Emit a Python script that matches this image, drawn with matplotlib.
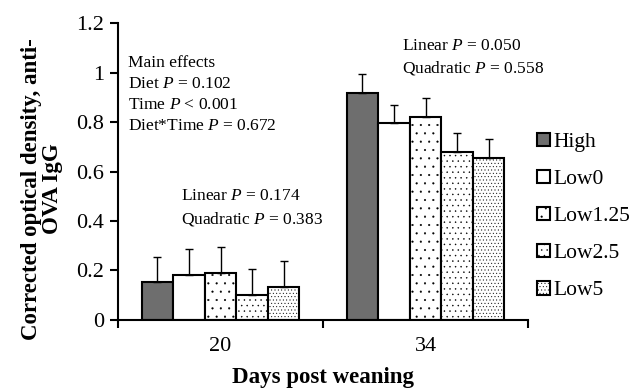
import matplotlib
matplotlib.use("Agg")
import matplotlib.pyplot as plt
from matplotlib.patches import Patch
import numpy as np

plt.rcParams['font.family'] = ['Liberation Serif', 'DejaVu Serif']
plt.rcParams['mathtext.fontset'] = 'custom'
plt.rcParams['mathtext.it'] = 'Liberation Serif:italic'
plt.rcParams['mathtext.rm'] = 'Liberation Serif'
plt.rcParams['hatch.linewidth'] = 0.3

days = ["20", "34"]
diets = ["High", "Low0", "Low1.25", "Low2.5", "Low5"]
means = {
    "High":    [0.155, 0.918],
    "Low0":    [0.181, 0.795],
    "Low1.25": [0.190, 0.821],
    "Low2.5":  [0.101, 0.680],
    "Low5":    [0.132, 0.653],
}
errs = {
    "High":    [0.101, 0.076],
    "Low0":    [0.105, 0.074],
    "Low1.25": [0.105, 0.076],
    "Low2.5":  [0.105, 0.077],
    "Low5":    [0.106, 0.078],
}
colors = {"High": "#6e6e6e", "Low0": "white", "Low1.25": "white",
          "Low2.5": "white", "Low5": "white"}
hatches = {"High": None, "Low0": None, "Low1.25": "..",
           "Low2.5": "...", "Low5": "....."}

fig = plt.figure(figsize=(6.39, 3.90), dpi=100)
ax = fig.add_axes([0.1847, 0.1795, 0.8263 - 0.1847, 0.941 - 0.1795])

x = np.arange(len(days))
w = 0.154
for i, d in enumerate(diets):
    pos = x + (i - 2) * w
    ax.bar(pos, means[d], width=w, color=colors[d], edgecolor="black",
           linewidth=1.5, hatch=hatches[d], zorder=2)
    ax.errorbar(pos, means[d], yerr=[np.zeros(2), errs[d]], fmt="none",
                ecolor="black", elinewidth=1.0, capsize=2.6, capthick=1.0,
                zorder=3)

ax.set_xlim(-0.5, 1.5)
ax.set_ylim(0, 1.2)
ax.set_yticks([0, 0.2, 0.4, 0.6, 0.8, 1.0, 1.2])
ax.set_yticklabels(["0", "0.2", "0.4", "0.6", "0.8", "1", "1.2"])
ax.set_xticks(x)
ax.set_xticklabels(days)
ax.set_xticks([-0.5, 0.5, 1.5], minor=True)
ax.tick_params(axis="x", which="major", length=0, labelsize=16, pad=12)
ax.tick_params(axis="x", which="minor", length=6, width=1.5, direction="out")
ax.tick_params(axis="y", length=6, width=1.5, direction="out", labelsize=16, pad=4)
for s in ["top", "right"]:
    ax.spines[s].set_visible(False)
for s in ["left", "bottom"]:
    ax.spines[s].set_linewidth(1.5)

ax.set_xlabel("Days post weaning", fontsize=16.5, fontweight="bold", labelpad=8)
fig.text(42 / 639, 1 - 189 / 390, "Corrected optical density, anti-\nOVA IgG",
         rotation=90, ha="center", va="center", fontsize=16.5,
         fontweight="bold", linespacing=0.95)

fs = 12.5
ax.text(-0.45, 1.07, "Main effects\nDiet $P$ = 0.102\nTime $P$ < 0.001\nDiet*Time $P$ = 0.672",
        fontsize=fs, va="top", ha="left", linespacing=1.4)
ax.text(-0.193, 0.453, "Linear $P$ = 0.174\nQuadratic $P$ = 0.383",
        fontsize=fs, va="center", ha="left", linespacing=1.4)
ax.text(0.885, 1.06, "Linear $P$ = 0.050\nQuadratic $P$ = 0.558",
        fontsize=fs, va="center", ha="left", linespacing=1.4)

handles = [Patch(facecolor=colors[d], edgecolor="black", linewidth=1.5,
                 hatch=hatches[d], label=d) for d in diets]
fig.legend(handles=handles, loc="center left", bbox_to_anchor=(0.841, 0.445),
           frameon=False, fontsize=15.5, handlelength=0.6, handleheight=0.6,
           handletextpad=0.15, labelspacing=0.82, borderaxespad=0,
           borderpad=0)

fig.savefig("out.png", dpi=100)
